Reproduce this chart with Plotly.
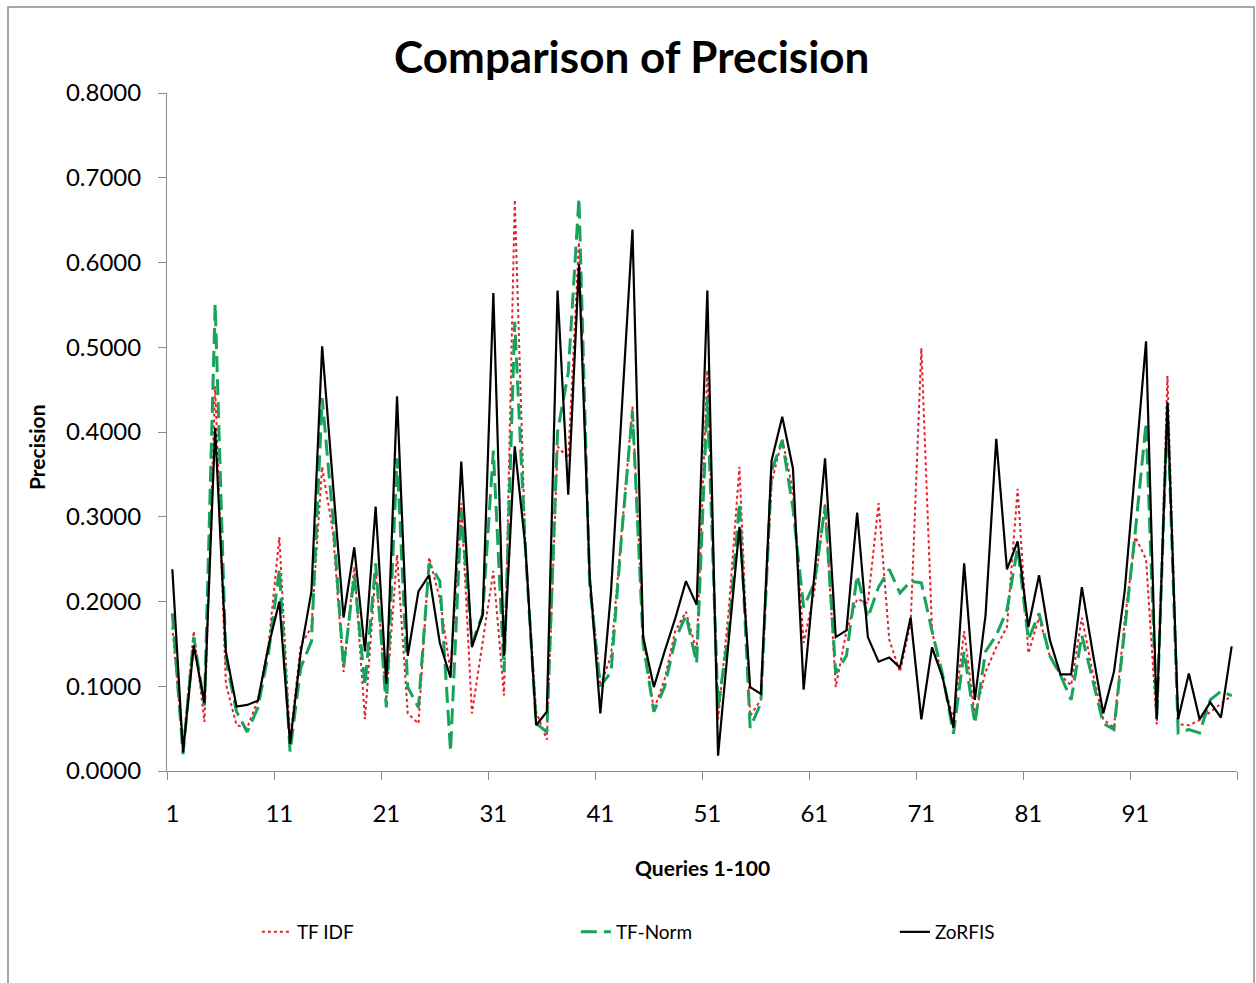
import plotly.graph_objects as go

queries = list(range(1, 101))

tf_idf = [
    0.170, 0.027, 0.165, 0.058, 0.454, 0.103, 0.054, 0.051, 0.084, 0.150,
    0.276, 0.037, 0.148, 0.170, 0.359, 0.283, 0.117, 0.241, 0.061, 0.236,
    0.084, 0.255, 0.068, 0.056, 0.252, 0.203, 0.117, 0.316, 0.068, 0.150,
    0.236, 0.089, 0.674, 0.260, 0.070, 0.037, 0.383, 0.369, 0.624, 0.230,
    0.100, 0.136, 0.280, 0.430, 0.160, 0.072, 0.108, 0.165, 0.188, 0.141,
    0.473, 0.061, 0.190, 0.359, 0.065, 0.084, 0.340, 0.392, 0.330, 0.151,
    0.212, 0.316, 0.099, 0.165, 0.203, 0.198, 0.316, 0.155, 0.117, 0.174,
    0.499, 0.165, 0.108, 0.061, 0.165, 0.065, 0.117, 0.146, 0.170, 0.333,
    0.139, 0.181, 0.136, 0.113, 0.101, 0.181, 0.117, 0.061, 0.051, 0.177,
    0.276, 0.250, 0.055, 0.466, 0.055, 0.054, 0.060, 0.070, 0.080, 0.089,
]

tf_norm = [
    0.186, 0.020, 0.158, 0.077, 0.551, 0.132, 0.070, 0.046, 0.075, 0.140,
    0.238, 0.023, 0.122, 0.153, 0.440, 0.300, 0.122, 0.231, 0.101, 0.245,
    0.075, 0.369, 0.099, 0.075, 0.245, 0.224, 0.023, 0.307, 0.150, 0.185,
    0.378, 0.117, 0.530, 0.260, 0.056, 0.046, 0.400, 0.470, 0.676, 0.220,
    0.100, 0.117, 0.280, 0.425, 0.150, 0.070, 0.099, 0.155, 0.184, 0.127,
    0.440, 0.075, 0.165, 0.316, 0.051, 0.080, 0.354, 0.390, 0.310, 0.193,
    0.222, 0.312, 0.115, 0.136, 0.231, 0.181, 0.217, 0.238, 0.210, 0.224,
    0.222, 0.165, 0.113, 0.044, 0.141, 0.056, 0.141, 0.160, 0.190, 0.264,
    0.155, 0.186, 0.136, 0.113, 0.084, 0.160, 0.108, 0.056, 0.049, 0.165,
    0.283, 0.411, 0.060, 0.430, 0.045, 0.049, 0.045, 0.084, 0.094, 0.089,
]

zorfis = [
    0.238, 0.022, 0.148, 0.080, 0.405, 0.141, 0.076, 0.078, 0.083, 0.148,
    0.200, 0.032, 0.140, 0.212, 0.501, 0.340, 0.181, 0.264, 0.141, 0.312,
    0.103, 0.442, 0.136, 0.212, 0.231, 0.151, 0.110, 0.365, 0.146, 0.184,
    0.564, 0.136, 0.383, 0.264, 0.054, 0.070, 0.567, 0.326, 0.598, 0.231,
    0.068, 0.212, 0.430, 0.639, 0.158, 0.099, 0.141, 0.180, 0.224, 0.196,
    0.567, 0.018, 0.155, 0.288, 0.099, 0.091, 0.366, 0.418, 0.357, 0.096,
    0.231, 0.369, 0.158, 0.166, 0.305, 0.158, 0.129, 0.134, 0.122, 0.181,
    0.061, 0.146, 0.110, 0.051, 0.245, 0.084, 0.184, 0.392, 0.238, 0.271,
    0.170, 0.231, 0.155, 0.114, 0.114, 0.217, 0.141, 0.068, 0.117, 0.212,
    0.359, 0.507, 0.061, 0.435, 0.061, 0.115, 0.061, 0.081, 0.063, 0.147,
]

x_tick_vals = [1, 11, 21, 31, 41, 51, 61, 71, 81, 91]
x_tick_text = [str(v) for v in x_tick_vals]
y_tick_vals = [0.0, 0.1, 0.2, 0.3, 0.4, 0.5, 0.6, 0.7, 0.8]

FONT = "Lato, 'Open Sans', sans-serif"
AXIS_GRAY = "#8c8c8c"

fig = go.Figure()
fig.add_trace(go.Scatter(
    x=queries, y=tf_idf, mode="lines", name="TF IDF",
    line=dict(color="#e8202a", width=2, dash="dot"),
))
fig.add_trace(go.Scatter(
    x=queries, y=tf_norm, mode="lines", name="TF-Norm",
    line=dict(color="#17a35a", width=3, dash="16px,7px"),
))
fig.add_trace(go.Scatter(
    x=queries, y=zorfis, mode="lines", name="ZoRFIS",
    line=dict(color="#000000", width=2.2),
))

fig.update_layout(
    width=1256, height=983,
    margin=dict(l=167, r=19, t=93, b=212),
    paper_bgcolor="white", plot_bgcolor="white",
    font=dict(family=FONT, color="black"),
    title=dict(
        text="<b>Comparison of Precision</b>",
        x=0.503, xanchor="center", y=1 - 58 / 983, yanchor="middle",
        font=dict(size=44, family=FONT, color="black"),
    ),
    showlegend=True,
    legend=dict(
        orientation="h", x=0.084, xanchor="left",
        y=-(932 - 771) / 678, yanchor="middle",
        font=dict(size=19, family=FONT, color="black"),
        entrywidth=274, entrywidthmode="pixels",
        bgcolor="rgba(0,0,0,0)",
    ),
    xaxis=dict(
        range=[0.5, 100.5],
        tickmode="array", tickvals=x_tick_vals, ticktext=x_tick_text,
        ticks="", showgrid=False, zeroline=False,
        showline=True, linecolor=AXIS_GRAY, linewidth=1,
        ticklabelstandoff=21,
        tickfont=dict(size=24, family=FONT, color="black"),
        minor=dict(
            tickmode="array",
            tickvals=[0.5 + 10 * k for k in range(11)],
            ticks="outside", ticklen=8, tickcolor=AXIS_GRAY, showgrid=False,
        ),
    ),
    yaxis=dict(
        range=[0, 0.8],
        tickmode="array", tickvals=y_tick_vals,
        tickformat=".4f",
        ticks="outside", ticklen=8, tickcolor=AXIS_GRAY,
        showgrid=False, zeroline=False,
        showline=True, linecolor=AXIS_GRAY, linewidth=1,
        ticklabelstandoff=12,
        tickfont=dict(size=24, family=FONT, color="black"),
    ),
    annotations=[
        dict(text="<b>Queries 1-100</b>", xref="paper", yref="paper",
             x=0.5, y=-(867 - 771) / 678, xanchor="center", yanchor="middle",
             showarrow=False, font=dict(size=21, family=FONT, color="black")),
        dict(text="<b>Precision</b>", xref="paper", yref="paper",
             x=-(167 - 37) / 1070, y=(771 - 447) / 678, xanchor="center", yanchor="middle",
             textangle=-90, showarrow=False,
             font=dict(size=21, family=FONT, color="black")),
    ],
    shapes=[
        dict(type="rect", xref="paper", yref="paper",
             x0=-(167 - 8) / 1070, x1=(1254 - 167) / 1070,
             y0=-(990 - 771) / 678, y1=(771 - 7) / 678,
             line=dict(color=AXIS_GRAY, width=1.5), fillcolor="rgba(0,0,0,0)",
             layer="below"),
    ],
)

fig.write_html("out.html")
